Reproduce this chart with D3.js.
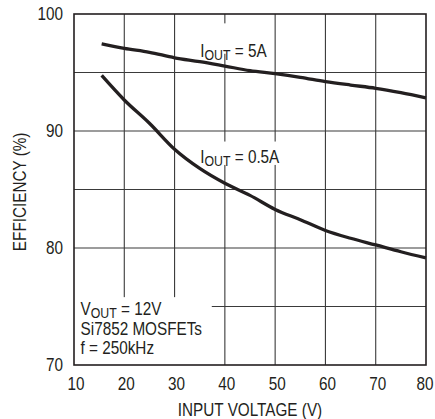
<!DOCTYPE html>
<html>
<head>
<meta charset="utf-8">
<script src="https://cdn.jsdelivr.net/npm/d3@7"></script>
<style>
  body { margin: 0; background: #fff; }
  svg text { font-family: "Liberation Sans", Arial, sans-serif; fill: #231f20; }
</style>
</head>
<body>
<div id="chart"></div>
<script>
// values
const volts = [15.5, 20, 25, 30, 35, 40, 45, 50, 55, 60, 65, 70, 75, 80];
const eff5A = [97.45, 97.07, 96.73, 96.26, 95.93, 95.55, 95.16, 94.9, 94.59, 94.23, 93.93, 93.65, 93.27, 92.83];
const eff05A = [94.75, 92.65, 90.66, 88.44, 86.8, 85.53, 84.5, 83.3, 82.42, 81.5, 80.83, 80.26, 79.68, 79.15];
const xTicks = [10, 20, 30, 40, 50, 60, 70, 80];
const yTicks = [70, 80, 90, 100];
const yGrid = [75, 80, 85, 90, 95];
const notes = ["= 12V", "Si7852 MOSFETs", "f = 250kHz"];

const W = 435, H = 419;
const margin = { top: 14, right: 9, bottom: 54, left: 74 };
const width = W - margin.left - margin.right;
const height = H - margin.top - margin.bottom;
const SX = 0.85; // no condensed font here, so squeeze the text a bit
const FS = "18px";

const svg = d3.select("#chart").append("svg")
  .attr("width", W).attr("height", H);
const g = svg.append("g").attr("transform", `translate(${margin.left},${margin.top})`);

const x = d3.scaleLinear().domain([10, 80]).range([0, width]);
const y = d3.scaleLinear().domain([70, 100]).range([height, 0]);

function addText(px, py, anchor, rot) {
  return g.append("text")
    .attr("transform", `translate(${px},${py})${rot ? " rotate(" + rot + ")" : ""} scale(${SX},1)`)
    .attr("text-anchor", anchor || "start")
    .style("font-size", FS);
}

// grid lines
g.selectAll(".vgrid").data(xTicks.slice(1, -1)).join("line")
  .attr("x1", d => x(d)).attr("x2", d => x(d))
  .attr("y1", 0).attr("y2", height)
  .attr("stroke", "#3a3a3a").attr("stroke-width", 1.1);
g.selectAll(".hgrid").data(yGrid).join("line")
  .attr("x1", 0).attr("x2", width)
  .attr("y1", d => y(d)).attr("y2", d => y(d))
  .attr("stroke", "#3a3a3a").attr("stroke-width", 1.1);

// white boxes behind the labels
g.append("rect").attr("x", x(34.3) - 0.5).attr("y", y(99.2)).attr("width", x(49.6) - x(34.3)).attr("height", y(96.6) - y(99.2)).attr("fill", "#fff");
g.append("rect").attr("x", x(34.3) - 0.5).attr("y", y(89.1)).attr("width", x(52.2) - x(34.3)).attr("height", y(87.1) - y(89.1)).attr("fill", "#fff");
g.append("rect").attr("x", 0).attr("y", y(75.8)).attr("width", x(37.4) - x(10)).attr("height", y(70) - y(75.8)).attr("fill", "#fff");

// frame
g.append("rect").attr("width", width).attr("height", height)
  .attr("fill", "none").attr("stroke", "#231f20").attr("stroke-width", 1.6);

// curves
const line = d3.line()
  .x((d, i) => x(volts[i]))
  .y(d => y(d))
  .curve(d3.curveMonotoneX);
[eff5A, eff05A].forEach(s => {
  g.append("path").datum(s)
    .attr("fill", "none").attr("stroke", "#231f20")
    .attr("stroke-width", 3.3).attr("stroke-linejoin", "round")
    .attr("d", line);
});

// tick labels
xTicks.forEach(d => addText(x(d) + (d === 80 ? -1 : 2), height + 25, "middle").text(d));
yTicks.forEach(d => addText(-11, y(d) + 6, "end").text(d));

// axis titles
addText(width / 2, height + 51, "middle").text("INPUT VOLTAGE (V)");
addText(26 - margin.left, y(84.8), "middle", -90).text("EFFICIENCY (%)");

// labels with subscript
function subLabel(px, py, main, sub, rest) {
  const t = addText(px, py, "start");
  t.append("tspan").text(main);
  t.append("tspan").attr("dy", 3).style("font-size", "14.5px").text(sub);
  t.append("tspan").attr("dy", -3).text(" " + rest);
}
subLabel(x(35.1), y(96.3), "I", "OUT", "= 5A");
subLabel(x(35.1), y(87.3), "I", "OUT", "= 0.5A");

// conditions box
subLabel(x(11.3), y(74.3), "V", "OUT", notes[0]);
addText(x(11.3), y(72.6), "start").text(notes[1]);
addText(x(11.3), y(70.9), "start").text(notes[2]);
</script>
</body>
</html>
